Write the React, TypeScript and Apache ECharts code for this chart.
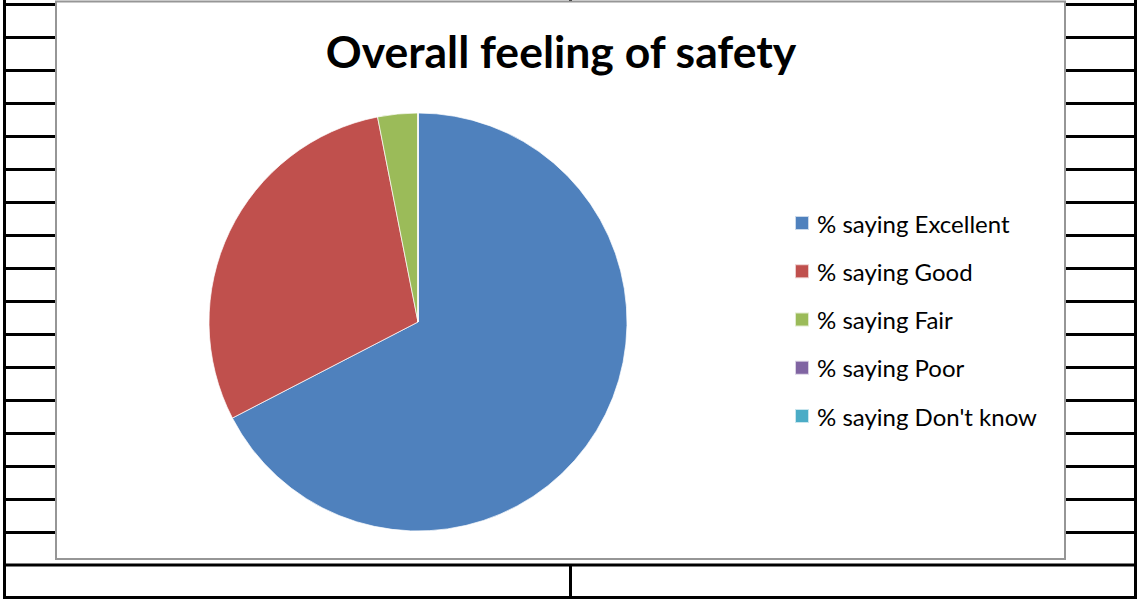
import React, { useEffect, useRef } from "react";
import * as echarts from "echarts";

const titleText = "Overall feeling of safety";
const categories = [
  "% saying Excellent",
  "% saying Good",
  "% saying Fair",
  "% saying Poor",
  "% saying Don't know",
];
const values = [67.4, 29.5, 3.1, 0, 0];
const colors = ["#4F81BD", "#C0504D", "#9BBB59", "#8064A2", "#4BACC6"];

const W = 1137;
const H = 599;

function buildSheetLines(): any[] {
  const els: any[] = [];
  const black = { stroke: "#000", lineWidth: 3 };
  els.push({ type: "line", shape: { x1: 4.5, y1: 0, x2: 4.5, y2: 599 }, style: black });
  els.push({ type: "line", shape: { x1: 1135.5, y1: 0, x2: 1135.5, y2: 599 }, style: black });
  for (let k = 0; k <= 16; k++) {
    const y = 4.5 + 33 * k;
    els.push({ type: "line", shape: { x1: 4, y1: y, x2: 56, y2: y }, style: black });
    els.push({ type: "line", shape: { x1: 1065, y1: y, x2: 1136, y2: y }, style: black });
  }
  els.push({ type: "line", shape: { x1: 3, y1: 565, x2: 1137, y2: 565 }, style: black });
  els.push({ type: "line", shape: { x1: 3, y1: 597.5, x2: 1137, y2: 597.5 }, style: black });
  els.push({ type: "line", shape: { x1: 570.5, y1: 564, x2: 570.5, y2: 598 }, style: black });
  els.push({ type: "line", shape: { x1: 570.5, y1: 0, x2: 570.5, y2: 1 }, style: black });
  els.push({
    type: "rect",
    shape: { x: 56, y: 1.5, width: 1009, height: 557.5 },
    style: { fill: "#fff", stroke: "#969696", lineWidth: 2 },
  });
  return els;
}

export default function App() {
  const ref = useRef<HTMLDivElement>(null);
  useEffect(() => {
    if (!ref.current) return;
    const chart = echarts.init(ref.current, null, { renderer: "svg" });
    chart.setOption({
      animation: false,
      backgroundColor: "#fff",
      color: colors,
      title: {
        text: titleText,
        left: 561,
        textAlign: "center",
        top: 28,
        padding: 0,
        textStyle: {
          fontFamily: "Lato",
          fontWeight: "bold",
          fontSize: 44.5,
          color: "#000",
        },
      },
      legend: {
        orient: "vertical",
        left: 794,
        top: 211,
        padding: 0,
        itemWidth: 14,
        itemHeight: 14,
        itemGap: 24.25,
        icon: "rect",
        data: categories,
        textStyle: {
          fontFamily: "Lato",
          fontSize: 24,
          lineHeight: 24,
          color: "#000",
          padding: [0, 0, 0, 3],
        },
      },
      graphic: { elements: buildSheetLines() },
      series: [
        {
          type: "pie",
          center: [418, 322],
          radius: 209,
          startAngle: 90,
          clockwise: true,
          label: { show: false },
          labelLine: { show: false },
          itemStyle: { borderColor: "rgba(255,255,255,0.7)", borderWidth: 1 },
          emphasis: { disabled: true },
          data: categories.map((name, i) => ({ name, value: values[i] })),
        },
      ],
    });
    return () => chart.dispose();
  }, []);
  return (
    <div
      ref={ref}
      style={{ position: "fixed", left: 0, top: 0, width: W, height: H }}
    />
  );
}
